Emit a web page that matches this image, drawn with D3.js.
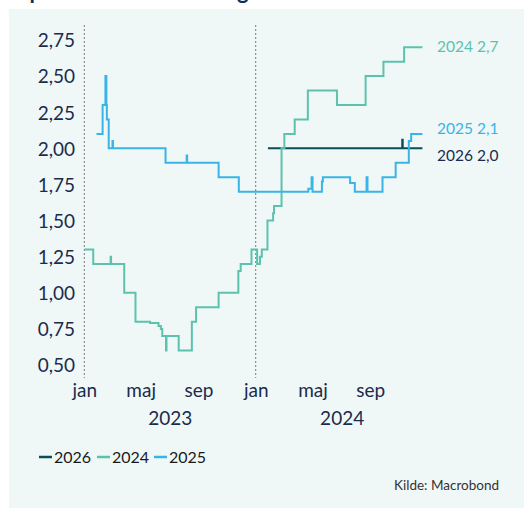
<!DOCTYPE html>
<meta charset="utf-8">
<head>
  <title>Inflationsforventninger</title>
</head>

<style>
  body { margin: 0; background: #fff; }
  text { font-family: Lato, "Open Sans", sans-serif; }
</style>

<body>
  <svg width="524" height="508"></svg>

  <script src="https://cdnjs.cloudflare.com/ajax/libs/d3/7.8.5/d3.min.js"></script>

  <script>
  // forventet inflation for hvert år, step-serier [dato, værdi]
  var s2026 = [
    ["2024-01-27", 2.0], ["2024-11-08", 2.06], ["2024-11-09", 2.0], ["2024-12-21", 2.0]
  ];
  var s2024 = [
    ["2023-01-01", 1.3], ["2023-01-20", 1.2], ["2023-02-26", 1.25], ["2023-02-27", 1.2],
    ["2023-03-27", 1.0], ["2023-04-20", 0.8], ["2023-05-21", 0.79], ["2023-06-08", 0.77],
    ["2023-06-13", 0.75], ["2023-06-16", 0.7], ["2023-06-24", 0.6], ["2023-06-25", 0.7],
    ["2023-07-21", 0.6], ["2023-08-18", 0.8], ["2023-08-27", 0.9], ["2023-10-14", 1.0],
    ["2023-11-25", 1.15], ["2023-11-30", 1.2], ["2023-12-23", 1.3], ["2024-01-04", 1.2],
    ["2024-01-10", 1.25], ["2024-01-14", 1.3], ["2024-01-26", 1.5], ["2024-02-07", 1.55],
    ["2024-02-09", 1.6], ["2024-02-25", 2.0], ["2024-03-02", 2.1], ["2024-03-24", 2.2],
    ["2024-04-21", 2.4], ["2024-06-22", 2.3], ["2024-08-22", 2.5], ["2024-09-29", 2.6],
    ["2024-11-12", 2.7], ["2024-12-21", 2.7]
  ];
  var s2025 = [
    ["2023-01-27", 2.1], ["2023-02-09", 2.3], ["2023-02-15", 2.5], ["2023-02-17", 2.3],
    ["2023-02-18", 2.2], ["2023-02-22", 2.0], ["2023-03-02", 2.05], ["2023-03-03", 2.0],
    ["2023-06-23", 1.9], ["2023-08-07", 1.95], ["2023-08-08", 1.9], ["2023-10-14", 1.8],
    ["2023-11-26", 1.7], ["2024-04-22", 1.72], ["2024-04-29", 1.8], ["2024-05-01", 1.7],
    ["2024-05-21", 1.77], ["2024-05-23", 1.8], ["2024-07-20", 1.76], ["2024-07-30", 1.7],
    ["2024-08-24", 1.8], ["2024-08-26", 1.7], ["2024-09-27", 1.8], ["2024-10-25", 1.9],
    ["2024-11-22", 2.05], ["2024-11-27", 2.1], ["2024-12-21", 2.1]
  ];

  var seriesNames = ["2026", "2024", "2025"];
  var seriesData = [s2026, s2024, s2025];
  var seriesColors = ["#0e4c5a", "#5cc2ad", "#38b4e6"];
  var endLabels = ["2026 2,0", "2024 2,7", "2025 2,1"];

  var yTicks = [0.5, 0.75, 1.0, 1.25, 1.5, 1.75, 2.0, 2.25, 2.5, 2.75];
  var monthTicks = ["2023-01-01", "2023-05-01", "2023-09-01", "2024-01-01", "2024-05-01", "2024-09-01"];
  var monthLabels = ["jan", "maj", "sep", "jan", "maj", "sep"];
  var yearTicks = ["2023-07-02", "2024-07-02"];
  var yearLabels = ["2023", "2024"];
  var yearStarts = ["2023-01-01", "2024-01-01"];

  var parse = d3.timeParse("%Y-%m-%d");
  var svg = d3.select("svg");
  var navy = "#1b2b4d";

  // baggrund
  svg.append("rect").attr("x", 9).attr("y", 9).attr("width", 515).attr("height", 499)
    .attr("fill", "#eff8f7");

  // titel (beskåret i toppen som i originalen)
  svg.append("text").attr("x", 12).attr("y", -1.5)
    .attr("font-size", 22).attr("font-weight", 700).attr("fill", "#0f2d5c")
    .text("Opdaterede forventninger til inflationen");

  var x = d3.scaleTime()
    .domain([parse("2023-01-01"), parse("2025-01-01")])
    .range([84.3, 427.6]);
  var y = d3.scaleLinear().domain([0.5, 2.75]).range([365, 40]);

  var fmt = function(v) { return d3.format(".2f")(v).replace(".", ","); };

  // y-akse
  var yAxis = svg.append("g").attr("transform", "translate(75,0)")
    .call(d3.axisLeft(y).tickValues(yTicks).tickSize(0).tickPadding(0).tickFormat(fmt));
  yAxis.select(".domain").remove();
  yAxis.selectAll("text").attr("font-size", 19).attr("fill", navy)
    .attr("font-family", "Lato, sans-serif").attr("dy", "0.36em");

  // årsskift
  svg.selectAll("line.yr").data(yearStarts).enter().append("line")
    .attr("class", "yr")
    .attr("x1", function(d) { return x(parse(d)); })
    .attr("x2", function(d) { return x(parse(d)); })
    .attr("y1", 25).attr("y2", 378)
    .attr("stroke", "#7a7a7a").attr("stroke-width", 1).attr("stroke-dasharray", "2,2");

  // x-akse: måneder og år
  var xAxis = svg.append("g").attr("transform", "translate(0,383)")
    .call(d3.axisBottom(x).tickValues(monthTicks.map(parse)).tickSize(0).tickPadding(0)
      .tickFormat(function(d, i) { return monthLabels[i]; }));
  xAxis.select(".domain").remove();
  xAxis.selectAll("text").attr("font-size", 19).attr("fill", navy)
    .attr("font-family", "Lato, sans-serif").attr("dy", "0.75em");

  var yrAxis = svg.append("g").attr("transform", "translate(0,411)")
    .call(d3.axisBottom(x).tickValues(yearTicks.map(parse)).tickSize(0).tickPadding(0)
      .tickFormat(function(d, i) { return yearLabels[i]; }));
  yrAxis.select(".domain").remove();
  yrAxis.selectAll("text").attr("font-size", 19).attr("fill", navy)
    .attr("font-family", "Lato, sans-serif").attr("dy", "0.75em");

  // linjer
  var line = d3.line()
    .x(function(d) { return x(parse(d[0])); })
    .y(function(d) { return y(d[1]); })
    .curve(d3.curveStepAfter);

  seriesData.forEach(function(s, i) {
    svg.append("path").datum(s)
      .attr("d", line)
      .attr("fill", "none")
      .attr("stroke", seriesColors[i])
      .attr("stroke-width", 2);
  });

  // slutlabels
  var endY = [155, 46, 128];
  seriesData.forEach(function(s, i) {
    svg.append("text").attr("x", 437).attr("y", endY[i]).attr("dy", "0.36em")
      .attr("font-size", 15.5)
      .attr("fill", i === 0 ? navy : seriesColors[i])
      .text(endLabels[i]);
  });

  // legende
  var legX = [39, 97, 154];
  var leg = svg.selectAll("g.leg").data(seriesNames).enter().append("g")
    .attr("class", "leg")
    .attr("transform", function(d, i) { return "translate(" + legX[i] + ",457)"; });
  leg.append("line").attr("x1", 0).attr("x2", 13).attr("y1", 0).attr("y2", 0)
    .attr("stroke", function(d, i) { return seriesColors[i]; }).attr("stroke-width", 2.5);
  leg.append("text").attr("x", 15).attr("dy", "0.36em").attr("font-size", 16)
    .attr("fill", "#1a1a1a").text(function(d) { return d; });

  svg.append("text").attr("x", 499).attr("y", 485).attr("dy", "0.36em")
    .attr("text-anchor", "end").attr("font-size", 13.5).attr("fill", "#333")
    .text("Kilde: Macrobond");
  </script>
</body>
</html>
